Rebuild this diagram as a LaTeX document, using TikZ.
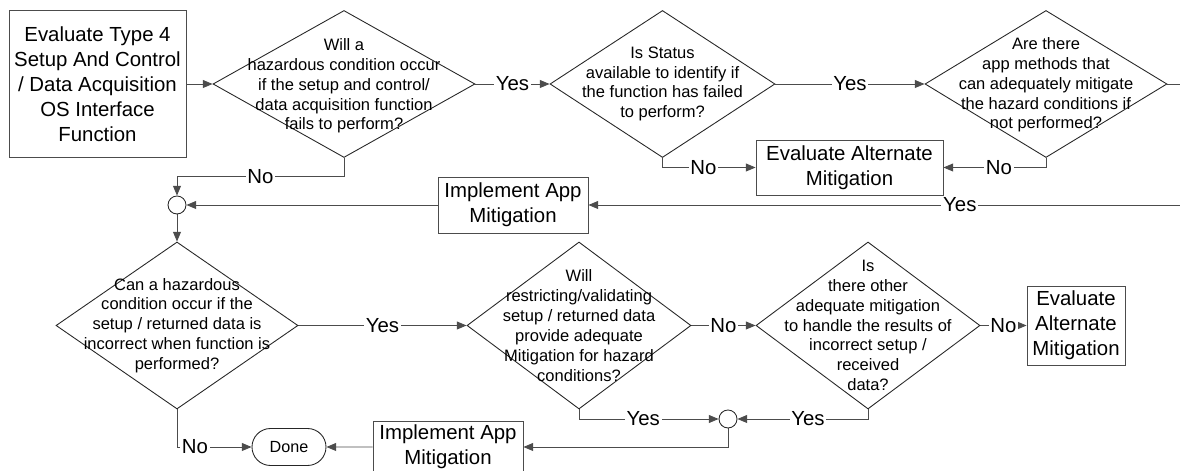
\documentclass[tikz,border=0pt]{standalone}
\usepackage{fontspec}
\setmainfont{Liberation Sans}
\usetikzlibrary{shapes.geometric,shapes.misc,arrows.meta}
\pgfdeclarelayer{edgelayer}
\pgfdeclarelayer{nodelayer}
\pgfsetlayers{edgelayer,nodelayer,main}
\tikzset{font=\fontsize{11.6}{14.2}\selectfont}
\tikzstyle{none}=[inner sep=0pt]
\tikzstyle{box}=[rectangle,draw=black!70,fill=white,inner sep=0pt,align=center,line width=0.5pt]
\tikzstyle{dia}=[diamond,draw=black!85,fill=white,inner sep=0pt,line width=0.5pt]
\tikzstyle{qtext}=[inner sep=0pt,align=center,font=\fontsize{9.4}{11.3}\selectfont]
\tikzstyle{junc}=[circle,draw=black!85,fill=white,inner sep=0pt,minimum size=0.36cm,line width=0.5pt]
\tikzstyle{term}=[rounded rectangle,draw=black!85,fill=white,inner sep=0pt,minimum width=1.48cm,minimum height=0.74cm,font=\fontsize{9.2}{11}\selectfont,line width=0.5pt]
\tikzstyle{flow}=[draw=black!70,line width=0.5pt,-{Triangle[length=5.5pt,width=4.5pt]}]
\tikzstyle{lab}=[fill=white,inner sep=1pt]

\begin{document}
\begin{tikzpicture}
	\useasboundingbox (0, 0) rectangle (23.6, -9.42);
	\begin{pgfonlayer}{nodelayer}
		\node [style=box, minimum width=3.54cm, minimum height=2.94cm] (0) at (1.95, -1.68) {Evaluate Type 4\\Setup And Control\\/ Data Acquisition\\OS Interface\\Function};
		\node [style=dia, minimum width=5.24cm, minimum height=2.94cm] (1) at (6.88, -1.68) {};
		\node [style=dia, minimum width=4.5cm, minimum height=2.94cm] (2) at (13.25, -1.68) {};
		\node [style=dia, minimum width=4.84cm, minimum height=2.94cm] (3) at (20.92, -1.68) {};
		\node [style=box, minimum width=3.74cm, minimum height=1.1cm] (4) at (16.99, -3.35) {Evaluate Alternate\\Mitigation};
		\node [style=box, minimum width=3cm, minimum height=1.12cm] (5) at (10.26, -4.1) {Implement App\\Mitigation};
		\node [style=junc] (6) at (3.54, -4.1) {};
		\node [style=dia, minimum width=4.84cm, minimum height=3.34cm] (7) at (3.54, -6.51) {};
		\node [style=dia, minimum width=4.48cm, minimum height=3.34cm] (8) at (11.58, -6.51) {};
		\node [style=dia, minimum width=4.48cm, minimum height=3.34cm] (9) at (17.36, -6.51) {};
		\node [style=box, minimum width=1.96cm, minimum height=1.58cm] (10) at (21.52, -6.51) {Evaluate\\Alternate\\Mitigation};
		\node [style=junc] (11) at (14.56, -8.38) {};
		\node [style=box, minimum width=3cm, minimum height=1.04cm] (12) at (8.96, -8.94) {Implement App\\Mitigation};
		\node [style=term] (13) at (5.78, -8.94) {Done};
		\node [style=qtext] (21) at (6.88, -1.72) {Will a\\hazardous condition occur\\if the setup and control/\\data acquisition function\\fails to perform?};
		\node [style=qtext] (22) at (13.25, -1.68) {Is Status\\available to identify if\\the function has failed\\to perform?};
		\node [style=qtext] (23) at (20.92, -1.70) {Are there\\app methods that\\can adequately mitigate\\the hazard conditions if\\not performed?};
		\node [style=qtext] (27) at (3.54, -6.51) {Can a hazardous\\condition occur if the\\setup / returned data is\\incorrect when function is\\performed?};
		\node [style=qtext] (28) at (11.58, -6.51) {Will\\restricting/validating\\setup / returned data\\provide adequate\\Mitigation for hazard\\conditions?};
		\node [style=qtext] (29) at (17.36, -6.51) {Is\\there other\\adequate mitigation\\to handle the results of\\incorrect setup /\\received\\data?};
	\end{pgfonlayer}
	\begin{pgfonlayer}{edgelayer}
		\draw [style=flow] (0) to (1);
		\draw [style=flow] (1) to node [style=lab] {Yes} (2);
		\draw [style=flow] (2) to node [style=lab] {Yes} (3);
		\draw [style=flow] (3.east) -- ++(0.4, 0) |- node [style=lab, pos=0.69] {Yes} (5);
		\draw [style=flow] (2.south) |- node [style=lab, pos=0.72] {No} (4);
		\draw [style=flow] (3.south) |- node [style=lab, pos=0.73] {No} (4);
		\draw [style=flow] (1.south) -- ++(0, -0.38) -| node [style=lab, pos=0.25] {No} (6);
		\draw [style=flow] (5) to (6);
		\draw [style=flow] (6) to (7);
		\draw [style=flow] (7) to node [style=lab] {Yes} (8);
		\draw [style=flow] (8) to node [style=lab] {No} (9);
		\draw [style=flow] (9) to node [style=lab] {No} (10);
		\draw [style=flow] (8.south) |- node [style=lab, pos=0.73] {Yes} (11);
		\draw [style=flow] (9.south) |- node [style=lab, pos=0.73] {Yes} (11);
		\draw [style=flow] (11) |- (12);
		\draw [style=flow] (12) to (13);
		\draw [style=flow] (7.south) |- node [style=lab, pos=0.62] {No} (13);
	\end{pgfonlayer}
\end{tikzpicture}
\end{document}
